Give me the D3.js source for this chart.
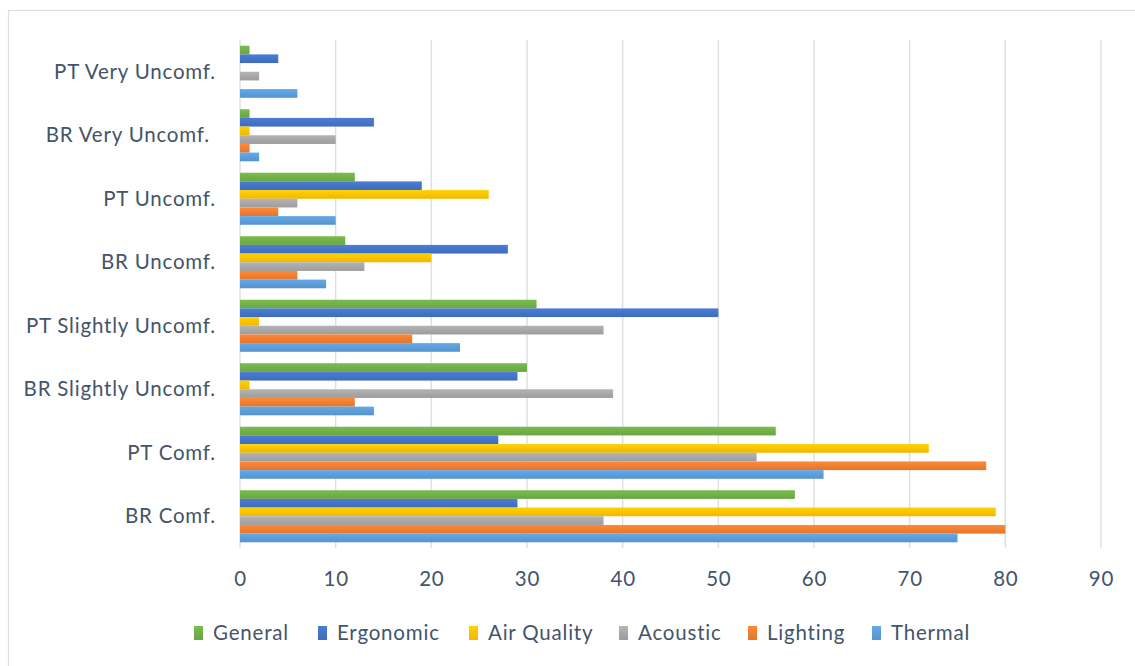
<!DOCTYPE html>
<html>
<head>
<meta charset="utf-8">
<script src="https://cdn.jsdelivr.net/npm/d3@7"></script>
<style>
  html, body { margin: 0; padding: 0; background: #ffffff; }
  svg { display: block; }
  text { font-family: Lato, "Open Sans", sans-serif; fill: #44546a; letter-spacing: 0.8px; }
</style>
</head>
<body>
<svg id="chart" width="1135" height="666"></svg>
<script>
// Categories listed bottom to top as shown on the vertical axis
const categories = [
  "BR Comf.", "PT Comf.", "BR Slightly Uncomf.", "PT Slightly Uncomf.",
  "BR Uncomf.", "PT Uncomf.", "BR Very Uncomf. ", "PT Very Uncomf."
];

// Series in drawing order within each group (top to bottom)
const seriesNames = ["General", "Ergonomic", "Air Quality", "Acoustic", "Lighting", "Thermal"];
const seriesColors = ["#70ad47", "#4472c4", "#ffc000", "#a5a5a5", "#ed7d31", "#5b9bd5"];

// Values per series, aligned with categories
const generalValues    = [58, 56, 30, 31, 11, 12, 1, 1];
const ergonomicValues  = [29, 27, 29, 50, 28, 19, 14, 4];
const airQualityValues = [79, 72, 1, 2, 20, 26, 1, 0];
const acousticValues   = [38, 54, 39, 38, 13, 6, 10, 2];
const lightingValues   = [80, 78, 12, 18, 6, 4, 1, 0];
const thermalValues    = [75, 61, 14, 23, 9, 10, 2, 6];

const seriesValues = [generalValues, ergonomicValues, airQualityValues,
                      acousticValues, lightingValues, thermalValues];

const tickValues = [0, 10, 20, 30, 40, 50, 60, 70, 80, 90];

const svg = d3.select("#chart");

// Outer chart frame
svg.append("rect")
  .attr("x", 8.5).attr("y", 10.5)
  .attr("width", 1140).attr("height", 670)
  .attr("fill", "none")
  .attr("stroke", "#dadee6")
  .attr("stroke-width", 1.2);

const plot = { left: 240, right: 1101, top: 40, bottom: 548 };

const x = d3.scaleLinear().domain([0, 90]).range([plot.left, plot.right]);

// Top of the chart holds the last category
const y = d3.scaleBand()
  .domain(categories.slice().reverse())
  .range([plot.top, plot.bottom])
  .padding(0);

const groupShare = 0.82;
const inner = d3.scaleBand()
  .domain(seriesNames)
  .range([y.bandwidth() * (1 - groupShare) / 2, y.bandwidth() * (1 + groupShare) / 2])
  .padding(0);

// Soft vertical shading on bars
const defs = svg.append("defs");
seriesNames.forEach((name, i) => {
  const base = d3.color(seriesColors[i]);
  const g = defs.append("linearGradient")
    .attr("id", "grad" + i)
    .attr("x1", 0).attr("y1", 0).attr("x2", 0).attr("y2", 1);
  g.append("stop").attr("offset", "0%").attr("stop-color", base.brighter(0.25).formatHex());
  g.append("stop").attr("offset", "100%").attr("stop-color", base.darker(0.15).formatHex());
});

// Vertical gridlines
svg.append("g")
  .selectAll("line")
  .data(tickValues)
  .join("line")
  .attr("x1", d => x(d)).attr("x2", d => x(d))
  .attr("y1", plot.top).attr("y2", plot.bottom)
  .attr("stroke", "#dcdfe5")
  .attr("stroke-width", 1.5);

// Bars
const groups = svg.append("g")
  .selectAll("g")
  .data(categories)
  .join("g")
  .attr("transform", d => `translate(0,${y(d)})`);

groups.selectAll("rect")
  .data((c, ci) => seriesNames.map((s, si) => ({ s, si, v: seriesValues[si][ci] })))
  .join("rect")
  .attr("x", x(0))
  .attr("y", d => inner(d.s))
  .attr("width", d => Math.max(0, x(d.v) - x(0)))
  .attr("height", inner.bandwidth())
  .attr("fill", d => `url(#grad${d.si})`);

// Category axis
const yAxis = svg.append("g")
  .attr("transform", `translate(${plot.left},0)`)
  .call(d3.axisLeft(y).tickSize(0).tickPadding(24));
yAxis.select(".domain").remove();
yAxis.selectAll("text")
  .style("white-space", "pre")
  .attr("font-size", 20.5)
  .attr("dy", "0.35em");

// Value axis
const xAxis = svg.append("g")
  .attr("transform", `translate(0,${plot.bottom})`)
  .call(d3.axisBottom(x).tickValues(tickValues).tickSize(0).tickPadding(23));
xAxis.select(".domain").remove();
xAxis.selectAll("text")
  .attr("font-size", 20.5)
  .attr("dy", "0.71em");

// Legend
const legendX = [194, 318, 469, 619, 748, 872];
const legend = svg.append("g")
  .selectAll("g")
  .data(seriesNames)
  .join("g")
  .attr("transform", (d, i) => `translate(${legendX[i]},633)`);
legend.append("rect")
  .attr("x", 0).attr("y", -7)
  .attr("width", 9).attr("height", 14)
  .attr("fill", (d, i) => `url(#grad${i})`);
legend.append("text")
  .attr("x", 19).attr("dy", "0.35em")
  .attr("font-size", 20.5)
  .text(d => d);
</script>
</body>
</html>
